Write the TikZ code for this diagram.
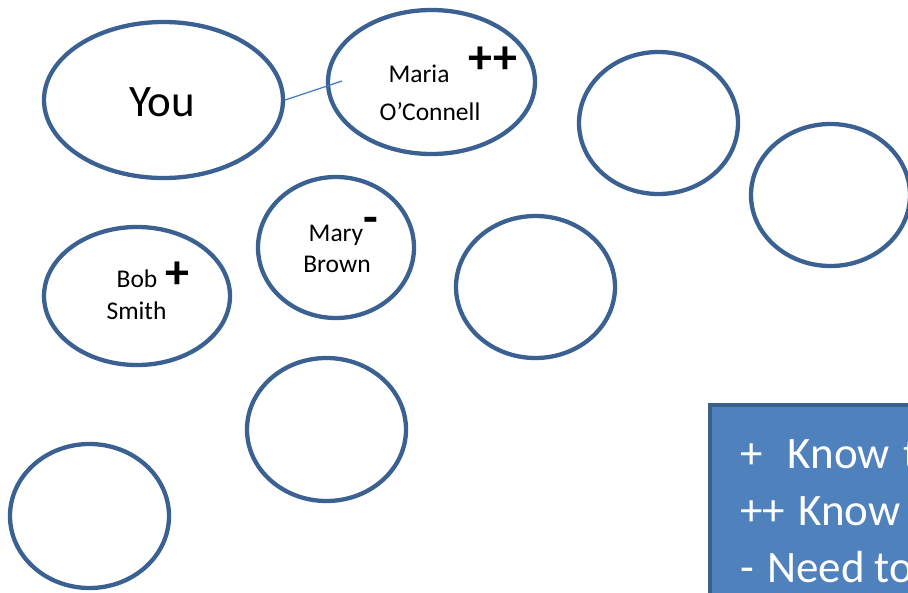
\documentclass[tikz,border=0pt]{standalone}
\usepackage{fontspec}
\setmainfont{Carlito}
\usetikzlibrary{shapes.geometric}
\definecolor{ringblue}{HTML}{3B6193}
\definecolor{linkblue}{HTML}{4A7EBB}
\definecolor{boxfill}{HTML}{4F81BD}
\definecolor{boxline}{HTML}{3A5F8B}
\tikzset{
  person/.style={draw=ringblue, line width=4.3pt, ellipse, inner sep=0pt, fill=white},
  nametxt/.style={anchor=base, inner sep=0pt, font=\fontsize{25.5}{30}\selectfont},
  signtxt/.style={inner sep=0pt, font=\fontsize{48}{50}\selectfont\bfseries},
  legendtxt/.style={anchor=base west, inner sep=0pt, text=white, font=\fontsize{45}{50}\selectfont}
}
\begin{document}
\begin{tikzpicture}[x=1pt,y=-1pt]
\path[use as bounding box, clip] (0,0) rectangle (908,592);
% ellipses
\node[person, minimum width=239pt, minimum height=156pt] (you) at (163.5,100) {};
\node[person, minimum width=207pt, minimum height=144pt] (maria) at (431.5,82) {};
\node[person, minimum width=159pt, minimum height=142pt] (e1) at (658.5,123) {};
\node[person, minimum width=159pt, minimum height=142pt] (e2) at (830.5,195) {};
\node[person, minimum width=156pt, minimum height=141pt] (mary) at (336,247.5) {};
\node[person, minimum width=186pt, minimum height=138pt] (bob) at (137,296) {};
\node[person, minimum width=159pt, minimum height=142pt] (e3) at (535.5,287) {};
\node[person, minimum width=159pt, minimum height=143pt] (e4) at (326.5,429.5) {};
\node[person, minimum width=159pt, minimum height=144pt] (e5) at (89.5,516) {};
% connector
\coordinate (linkend) at (342,81);
\draw[linkblue, line width=1.3pt] (you.east) -- (linkend);
% texts
\node[nametxt, font=\fontsize{45}{50}\selectfont] (youtxt) at (162,116) {You};
\node[nametxt] (maria1) at (419,82) {Maria};
\node[nametxt] (maria2) at (430,120) {O’Connell};
\node[signtxt] (mariamark) at (493,60) {++};
\node[nametxt] (bob1) at (137,287) {Bob};
\node[nametxt] (bob2) at (136.5,319) {Smith};
\node[signtxt] (bobmark) at (177,275) {+};
\node[nametxt] (mary1) at (336,241) {Mary};
\node[nametxt] (mary2) at (337,272) {Brown};
\node[signtxt] (marymark) at (371,225) {-};
% legend box
\draw[boxline, fill=boxfill, line width=4pt] (710,405) rectangle (940,640);
\node[legendtxt] (leg1) at (740,468) {+\ \ \hspace{5pt}Know\hspace{3pt} t};
\node[legendtxt] (leg2) at (740,525) {++\hspace{3pt} Know};
\node[legendtxt] (leg3) at (740,582) {-\hspace{3pt} Need to};
\end{tikzpicture}
\end{document}
